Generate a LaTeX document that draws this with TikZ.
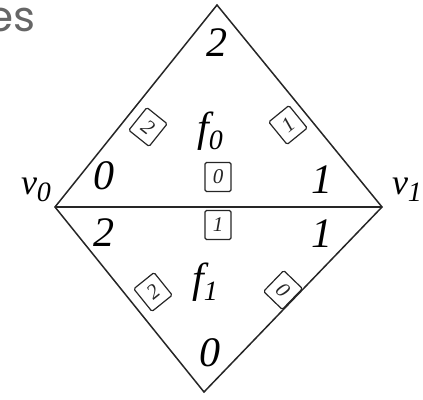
\documentclass[tikz,border=0pt]{standalone}
\usepackage{fontspec}
\setmainfont{Liberation Serif}
\newfontfamily\titlefont{Poppins}
\newcommand{\lbsub}[2]{#1\raisebox{-0.45ex}{\fontsize{28}{28}\selectfont #2}}
\begin{document}
\begin{tikzpicture}[x=1pt,y=-1pt,
  edge/.style={line width=1.5pt, black!85},
  midedge/.style={line width=2.2pt, black!85},
  big/.style={font=\fontsize{42}{42}\selectfont\itshape, inner sep=0pt},
  vlab/.style={font=\fontsize{36}{36}\selectfont\itshape, inner sep=0pt},
  tag/.style={draw, line width=1.2pt, black!85, rounded corners=1.5pt, minimum width=26pt, minimum height=29pt, inner sep=0pt, font=\fontsize{21}{21}\selectfont\itshape}]
\useasboundingbox (0,0) rectangle (423,399);
\node[anchor=base east, text=black!60, font=\titlefont\fontsize{42}{42}\selectfont, inner sep=0pt] (title) at (36,31) {es};
\coordinate (top) at (217,5);
\coordinate (v0) at (55,207);
\coordinate (v1) at (382,207);
\coordinate (bot) at (204,392);
\draw[edge] (v0) -- (top) -- (v1) -- (bot) -- cycle;
\draw[midedge] (v0) -- (v1);
\node[vlab] (lv0) at (36,190) {\lbsub{v}{0}};
\node[vlab] (lv1) at (407,190) {\lbsub{v}{1}};
\node[big] (ltop) at (217,43) {2};
\node[big] (lf0) at (210,131) {\lbsub{f}{0}};
\node[big] (l0a) at (104,176) {0};
\node[big] (l1a) at (322,180) {1};
\node[big] (l2b) at (104,233) {2};
\node[big] (l1b) at (322,234) {1};
\node[big] (lf1) at (205,282) {\lbsub{f}{1}};
\node[big] (lbot) at (210,353) {0};
\node[tag] (t0) at (218,177) {0};
\node[tag] (t1) at (218,225) {1};
\node[tag, rotate=-38.7] (tul) at (148,127) {2};
\node[tag, rotate=39.2] (tur) at (288,125) {1};
\node[tag, rotate=38.8] (tll) at (153,292) {2};
\node[tag, rotate=-44] (tlr) at (283,290) {0};
\end{tikzpicture}
\end{document}
